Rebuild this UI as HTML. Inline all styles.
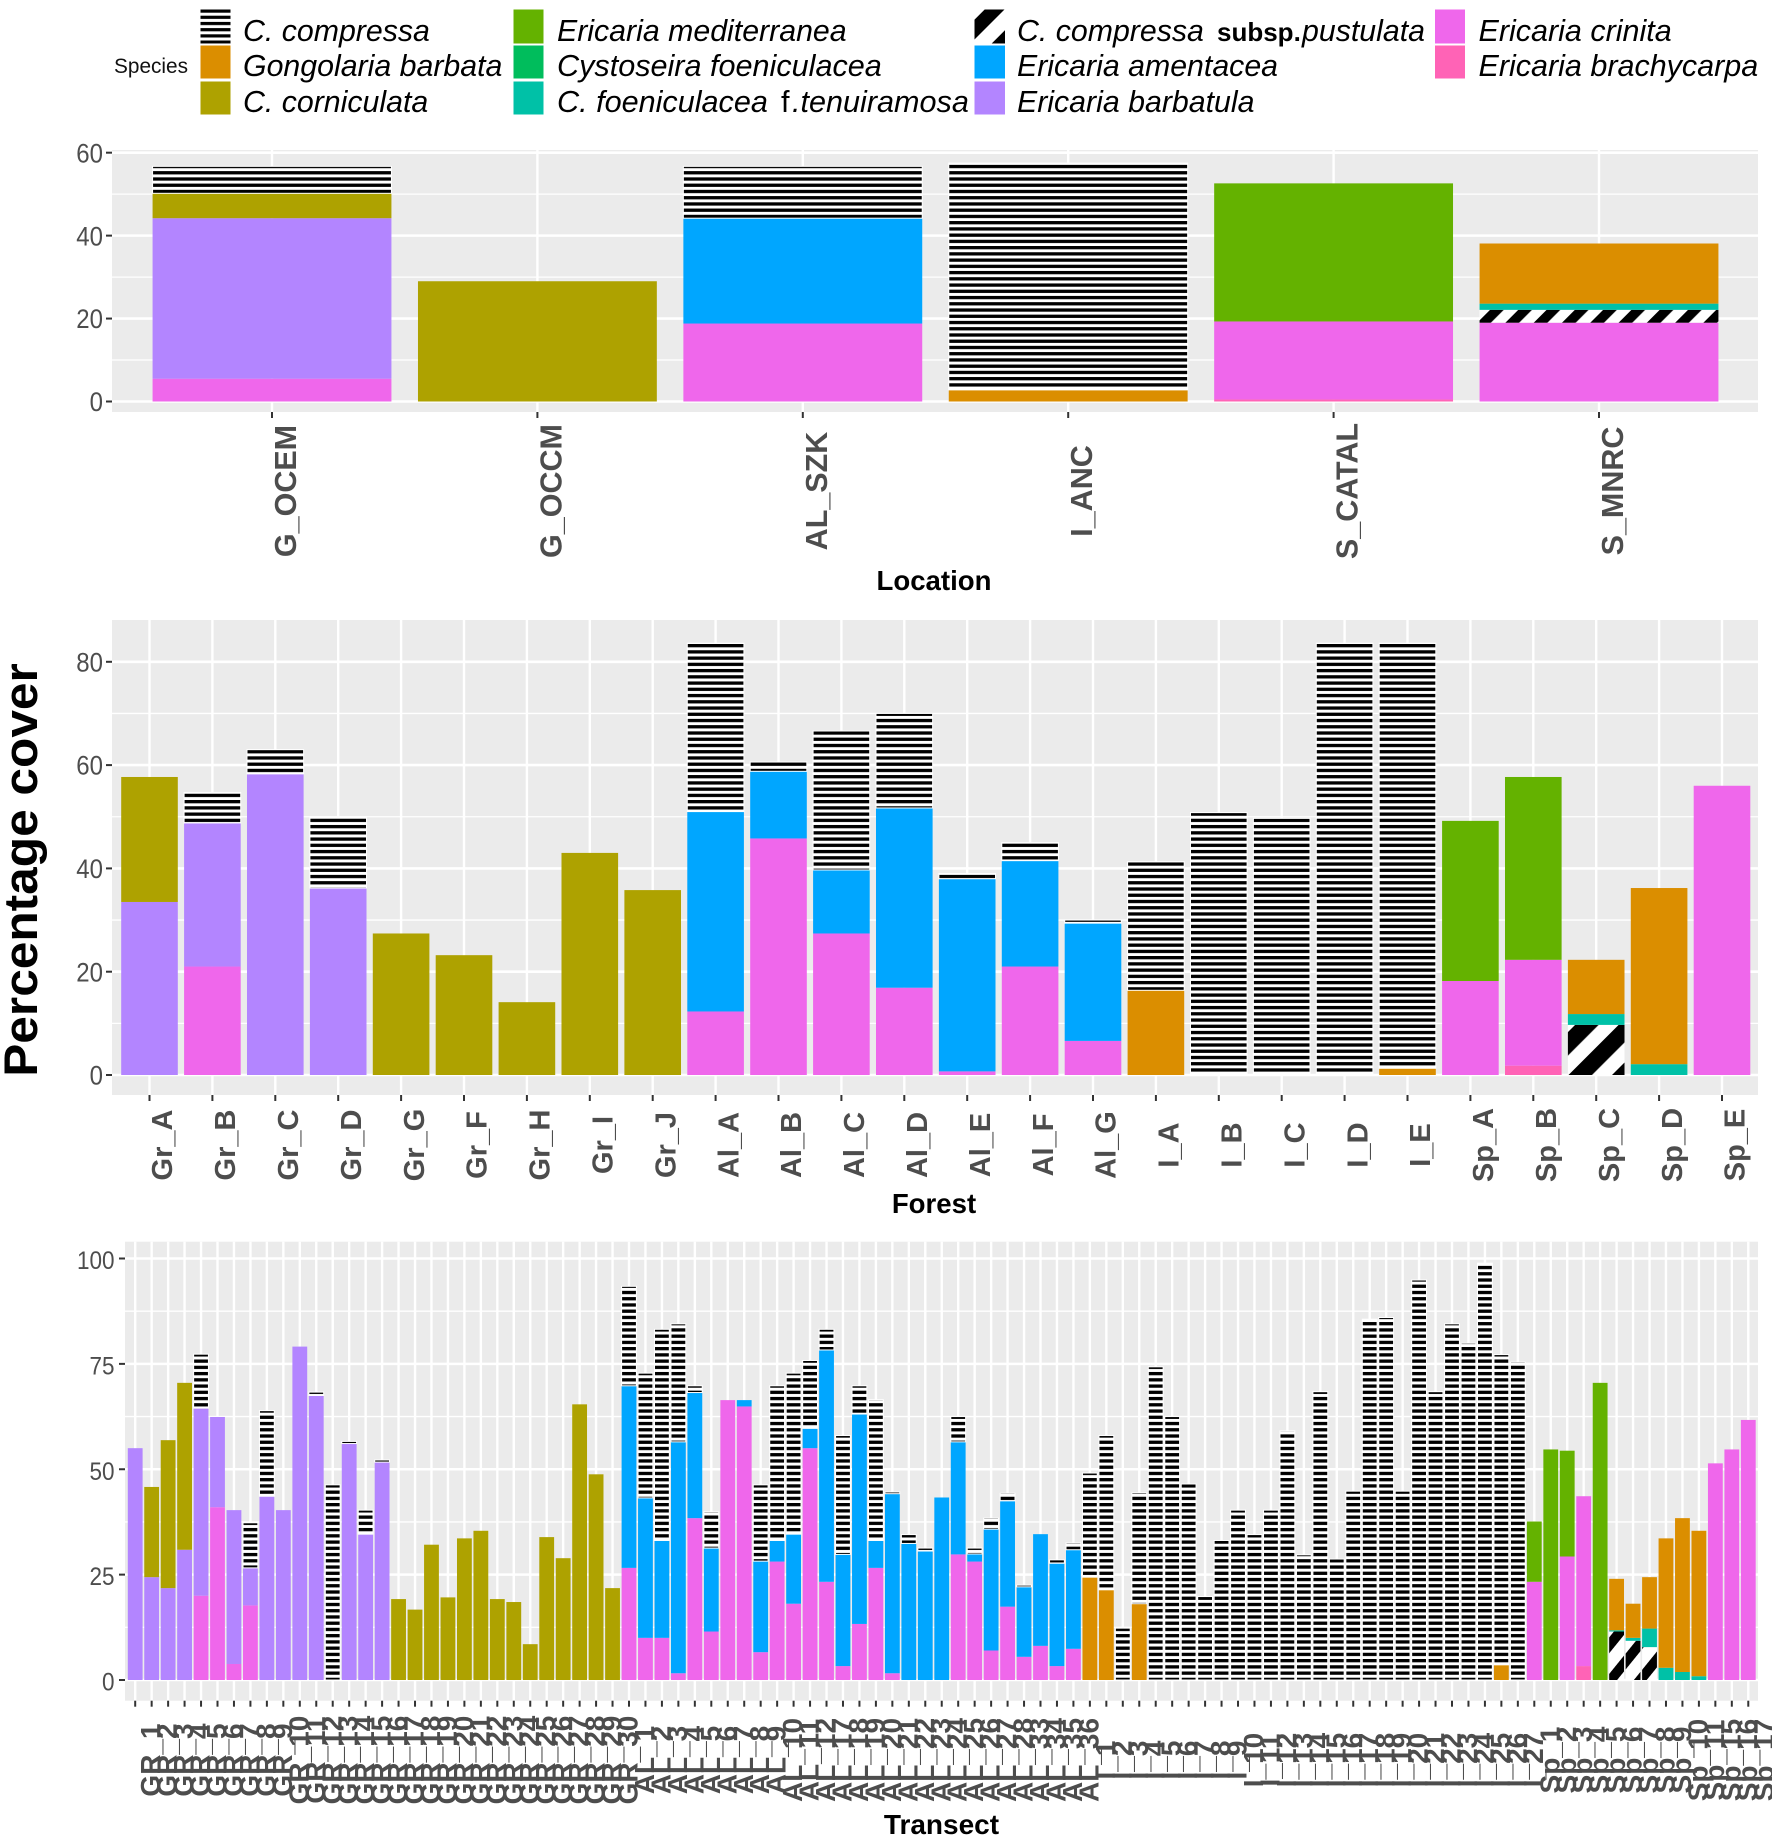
<!DOCTYPE html>
<html lang="en">
<head>
<meta charset="utf-8">
<title>Percentage cover by location, forest and transect</title>
<style>
html,body{margin:0;padding:0;background:#fff;}
svg{display:block;font-family:"Liberation Sans",sans-serif;}
</style>
</head>
<body>
<svg id="chart" xmlns="http://www.w3.org/2000/svg" width="1772" height="1845" viewBox="0 0 1772 1845">
<defs>
<pattern id="stripes-location" patternUnits="userSpaceOnUse" width="20" height="6.24" patternTransform="translate(0,177.35)"><rect width="20" height="6.24" fill="#fff"/><rect width="20" height="3.3" fill="#000"/></pattern>
<pattern id="stripes-forest" patternUnits="userSpaceOnUse" width="20" height="6.24" patternTransform="translate(0,644)"><rect width="20" height="6.24" fill="#fff"/><rect width="20" height="3.3" fill="#000"/></pattern>
<pattern id="stripes-transect" patternUnits="userSpaceOnUse" width="20" height="6.24" patternTransform="translate(0,1565.4)"><rect width="20" height="6.24" fill="#fff"/><rect width="20" height="3.3" fill="#000"/></pattern>
<pattern id="stripes-legend" patternUnits="userSpaceOnUse" width="20" height="6.2" patternTransform="translate(0,9.5)"><rect width="20" height="6.2" fill="#fff"/><rect width="20" height="3.2" fill="#000"/></pattern>
<pattern id="hatch-location" patternUnits="userSpaceOnUse" width="20" height="20" patternTransform="rotate(45) translate(1292.7,0)"><rect width="20" height="20" fill="#fff"/><rect width="9.7" height="20" fill="#000"/></pattern>
<pattern id="hatch-forest" patternUnits="userSpaceOnUse" width="30.75" height="30.75" patternTransform="rotate(45) translate(1838.5,0)"><rect width="30.75" height="30.75" fill="#fff"/><rect width="16.6" height="30.75" fill="#000"/></pattern>
<pattern id="hatch-transect" patternUnits="userSpaceOnUse" width="23" height="23" patternTransform="rotate(39) translate(2281,0)"><rect width="23" height="23" fill="#fff"/><rect width="10" height="23" fill="#000"/></pattern>
<pattern id="hatch-legend" patternUnits="userSpaceOnUse" width="29" height="29" patternTransform="rotate(45) translate(703,0)"><rect width="29" height="29" fill="#fff"/><rect width="14" height="29" fill="#000"/></pattern>
</defs>

<g id="legend">
<text x="114" y="73" font-size="20.8" fill="#111">Species</text>

<g font-size="30.3" font-style="italic"><rect x="200.5" y="9.5" width="30" height="34" fill="url(#stripes-legend)"/><text x="243" y="41">C. compressa</text></g>
<g font-size="30.3" font-style="italic"><rect x="200.5" y="45.5" width="30" height="33" fill="#DB8E00"/><text x="243" y="76">Gongolaria barbata</text></g>
<g font-size="30.3" font-style="italic"><rect x="200.5" y="81.5" width="30" height="33" fill="#AEA200"/><text x="243" y="112">C. corniculata</text></g>

<g font-size="30.3" font-style="italic"><rect x="513.5" y="9.5" width="30" height="34" fill="#64B200"/><text x="557" y="41">Ericaria mediterranea</text></g>
<g font-size="30.6" font-style="italic"><rect x="513.5" y="45.5" width="30" height="33" fill="#00BD5C"/><text x="557" y="76">Cystoseira foeniculacea</text></g>
<g font-size="30.6" font-style="italic"><rect x="513.5" y="81.5" width="30" height="33" fill="#00C1A7"/><text x="557" y="112">C. foeniculacea<tspan x="781" font-style="normal">f</tspan><tspan x="792">.tenuiramosa</tspan></text></g>

<g font-size="30.3" font-style="italic"><rect x="974.5" y="9.5" width="30.5" height="34" fill="url(#hatch-legend)"/><text x="1017" y="41">C. compressa<tspan x="1217" font-style="normal" font-weight="bold" font-size="26">subsp.</tspan><tspan x="1302">pustulata</tspan></text></g>
<g font-size="30.3" font-style="italic"><rect x="974.5" y="45.5" width="30.5" height="33" fill="#00A6FF"/><text x="1017" y="76">Ericaria amentacea</text></g>
<g font-size="30.3" font-style="italic"><rect x="974.5" y="81.5" width="30.5" height="33" fill="#B385FF"/><text x="1017" y="112">Ericaria barbatula</text></g>

<g font-size="30.5" font-style="italic"><rect x="1435" y="9.5" width="30" height="34" fill="#EF67EB"/><text x="1478.5" y="41">Ericaria crinita</text></g>
<g font-size="30.5" font-style="italic"><rect x="1435" y="45.5" width="30" height="33" fill="#FF63B6"/><text x="1478.5" y="76">Ericaria brachycarpa</text></g>
</g>

<text transform="translate(37,870) rotate(-90) scale(1.06,1)" text-anchor="middle" font-size="46.8" font-weight="bold" fill="#000">Percentage cover</text>
<text x="934" y="590" text-anchor="middle" font-size="27.6" font-weight="bold" fill="#000">Location</text>
<text x="934" y="1213" text-anchor="middle" font-size="27.6" font-weight="bold" fill="#000">Forest</text>
<text x="941.5" y="1834" text-anchor="middle" font-size="28" font-weight="bold" fill="#000">Transect</text>
</svg>

<script>
// Stack order, bottom to top, follows the legend reversed.
const speciesNames = ["brachycarpa","crinita","barbatula","amentacea","pustulata","tenuiramosa","foeniculacea","mediterranea","corniculata","gongolaria","compressa"];

// ---------- Location panel ----------
const locationCategories = ["G_OCEM","G_OCCM","AL_SZK","I_ANC","S_CATAL","S_MNRC"];
const locationTicks = [0,20,40,60];
const locationBrachycarpa = [0,0,0,0,0.5,0];
const locationCrinita = [5.5,0,18.8,0,18.8,19];
const locationBarbatula = [38.7,0,0,0,0,0];
const locationAmentacea = [0,0,25.4,0,0,0];
const locationPustulata = [0,0,0,0,0,3.1];
const locationTenuiramosa = [0,0,0,0,0,1.5];
const locationFoeniculacea = [0,0,0,0,0,0];
const locationMediterranea = [0,0,0,0,33.3,0];
const locationCorniculata = [6,29,0,0,0,0];
const locationGongolaria = [0,0,0,2.8,0,14.5];
const locationCompressa = [6.5,0,12.5,54.7,0,0];

// ---------- Forest panel ----------
const forestCategories = ["Gr_A","Gr_B","Gr_C","Gr_D","Gr_G","Gr_F","Gr_H","Gr_I","Gr_J","Al_A","Al_B","Al_C","Al_D","Al_E","Al_F","Al_G","I_A","I_B","I_C","I_D","I_E","Sp_A","Sp_B","Sp_C","Sp_D","Sp_E"];
const forestTicks = [0,20,40,60,80];
const forestBrachycarpa = [0,0,0,0,0,0,0,0,0, 0,0,0,0,0,0,0, 0,0,0,0,0, 0,1.8,0,0,0];
const forestCrinita = [0,21,0,0,0,0,0,0,0, 12.3,45.8,27.4,16.9,0.7,21,6.6, 0,0,0,0,0, 18.2,20.5,0,0,56];
const forestBarbatula = [33.5,27.8,58.3,36.2,0,0,0,0,0, 0,0,0,0,0,0,0, 0,0,0,0,0, 0,0,0,0,0];
const forestAmentacea = [0,0,0,0,0,0,0,0,0, 38.7,13,12.3,34.8,37.3,20.5,22.8, 0,0,0,0,0, 0,0,0,0,0];
const forestPustulata = [0,0,0,0,0,0,0,0,0, 0,0,0,0,0,0,0, 0,0,0,0,0, 0,0,9.7,0,0];
const forestTenuiramosa = [0,0,0,0,0,0,0,0,0, 0,0,0,0,0,0,0, 0,0,0,0,0, 0,0,2.1,2.1,0];
const forestFoeniculacea = [0,0,0,0,0,0,0,0,0, 0,0,0,0,0,0,0, 0,0,0,0,0, 0,0,0,0,0];
const forestMediterranea = [0,0,0,0,0,0,0,0,0, 0,0,0,0,0,0,0, 0,0,0,0,0, 31,35.4,0,0,0];
const forestCorniculata = [24.2,0,0,0,27.4,23.2,14.1,43,35.8, 0,0,0,0,0,0,0, 0,0,0,0,0, 0,0,0,0,0];
const forestGongolaria = [0,0,0,0,0,0,0,0,0, 0,0,0,0,0,0,0, 16.4,0,0,0,1.3, 0,0,10.5,34.1,0];
const forestCompressa = [0,5.9,4.7,13.8,0,0,0,0,0, 32.6,1.8,26.9,18.3,1,3.5,0.6, 24.9,50.8,49.7,83.6,82.3, 0,0,0,0,0];

// ---------- Transect panel ----------
const transectCategories = [
"GR_1","GR_2","GR_3","GR_4","GR_5","GR_6","GR_7","GR_8","GR_9","GR_10","GR_11","GR_12","GR_13","GR_14","GR_15","GR_16","GR_17","GR_18","GR_19","GR_20","GR_21","GR_22","GR_23","GR_24","GR_25","GR_26","GR_27","GR_28","GR_29","GR_30",
"AL_1","AL_2","AL_3","AL_4","AL_5","AL_6","AL_7","AL_8","AL_9","AL_10","AL_11","AL_12","AL_17","AL_18","AL_19","AL_20","AL_21","AL_22","AL_23","AL_24","AL_25","AL_26","AL_27","AL_28","AL_33","AL_34","AL_35","AL_36",
"I_1","I_2","I_3","I_4","I_5","I_6","I_7","I_8","I_9","I_10","I_11","I_12","I_13","I_14","I_15","I_16","I_17","I_18","I_19","I_20","I_21","I_22","I_23","I_24","I_25","I_26","I_27",
"Sp_1","Sp_2","Sp_3","Sp_4","Sp_5","Sp_6","Sp_7","Sp_8","Sp_9","Sp_10","Sp_11","Sp_15","Sp_16","Sp_17"];
const transectTicks = [0,25,50,75,100];
const transectBrachycarpa = [
0,0,0,0,0,0,0,0,0,0,0,0,0,0,0,0,0,0,0,0,0,0,0,0,0,0,0,0,0,0,
0,0,0,0,0,0,0,0,0,0,0,0,0,0,0,0,0,0,0,0,0,0,0,0,0,0,0,0,
0,0,0,0,0,0,0,0,0,0,0,0,0,0,0,0,0,0,0,0,0,0,0,0,0,0,0,
0,0,0,3.3,0,0,0,0,0,0,0,0,0,0];
const transectCrinita = [
0,0,0,0,20,41,3.8,17.7,0,0,0,0,0,0,0,0,0,0,0,0,0,0,0,0,0,0,0,0,0,0,
26.6,10,10,1.6,38.4,11.5,66.4,64.9,6.6,28.1,18.1,55,23.3,3.3,13.3,26.6,1.6,0,0,0,29.8,28.1,7,17.4,5.5,8.1,3.3,7.4,
0,0,0,0,0,0,0,0,0,0,0,0,0,0,0,0,0,0,0,0,0,0,0,0,0,0,0,
23.3,0,29.3,40.3,0,0,0,0,0,0,0,51.4,54.7,61.7];
const transectBarbatula = [
55,24.4,21.8,30.9,44.5,21.4,36.5,8.9,43.6,40.3,79.1,67.5,0,56.1,34.6,51.7,0,0,0,0,0,0,0,0,0,0,0,0,0,0,
0,0,0,0,0,0,0,0,0,0,0,0,0,0,0,0,0,0,0,0,0,0,0,0,0,0,0,0,
0,0,0,0,0,0,0,0,0,0,0,0,0,0,0,0,0,0,0,0,0,0,0,0,0,0,0,
0,0,0,0,0,0,0,0,0,0,0,0,0,0];
const transectAmentacea = [
0,0,0,0,0,0,0,0,0,0,0,0,0,0,0,0,0,0,0,0,0,0,0,0,0,0,0,0,0,0,
43.2,33.2,23.1,54.9,29.8,19.8,0,1.5,21.6,5,16.5,4.7,55,26.5,49.8,6.5,42.6,32.4,30.6,43.3,26.7,1.8,28.8,25.1,16.6,26.5,24.4,23.5,
0,0,0,0,0,0,0,0,0,0,0,0,0,0,0,0,0,0,0,0,0,0,0,0,0,0,0,
0,0,0,0,0,0,0,0,0,0,0,0,0,0];
const transectPustulata = [
0,0,0,0,0,0,0,0,0,0,0,0,0,0,0,0,0,0,0,0,0,0,0,0,0,0,0,0,0,0,
0,0,0,0,0,0,0,0,0,0,0,0,0,0,0,0,0,0,0,0,0,0,0,0,0,0,0,0,
0,0,0,0,0,0,0,0,0,0,0,0,0,0,0,0,0,0,0,0,0,0,0,0,0,0,0,
0,0,0,0,0,11.5,9.3,7.8,0,0,0,0,0,0];
const transectTenuiramosa = [
0,0,0,0,0,0,0,0,0,0,0,0,0,0,0,0,0,0,0,0,0,0,0,0,0,0,0,0,0,0,
0,0,0,0,0,0,0,0,0,0,0,0,0,0,0,0,0,0,0,0,0,0,0,0,0,0,0,0,
0,0,0,0,0,0,0,0,0,0,0,0,0,0,0,0,0,0,0,0,0,0,0,0,0,0,0,
0,0,0,0,0,0.3,0.7,4.4,2.9,1.9,0.9,0,0,0];
const transectFoeniculacea = [
0,0,0,0,0,0,0,0,0,0,0,0,0,0,0,0,0,0,0,0,0,0,0,0,0,0,0,0,0,0,
0,0,0,0,0,0,0,0,0,0,0,0,0,0,0,0,0,0,0,0,0,0,0,0,0,0,0,0,
0,0,0,0,0,0,0,0,0,0,0,0,0,0,0,0,0,0,0,0,0,0,0,0,0,0,0,
0,0,0,0,0,0,0,0,0,0,0,0,0,0];
const transectMediterranea = [
0,0,0,0,0,0,0,0,0,0,0,0,0,0,0,0,0,0,0,0,0,0,0,0,0,0,0,0,0,0,
0,0,0,0,0,0,0,0,0,0,0,0,0,0,0,0,0,0,0,0,0,0,0,0,0,0,0,0,
0,0,0,0,0,0,0,0,0,0,0,0,0,0,0,0,0,0,0,0,0,0,0,0,0,0,0,
14.3,54.7,25.1,0,70.5,0,0,0,0,0,0,0,0,0];
const transectCorniculata = [
0,21.4,35.1,39.6,0,0,0,0,0,0,0,0,0,0,0,0,19.2,16.7,32.1,19.6,33.6,35.4,19.2,18.5,8.5,33.9,28.9,65.4,48.8,21.8,
0,0,0,0,0,0,0,0,0,0,0,0,0,0,0,0,0,0,0,0,0,0,0,0,0,0,0,0,
0,0,0,0,0,0,0,0,0,0,0,0,0,0,0,0,0,0,0,0,0,0,0,0,0,0,0,
0,0,0,0,0,0,0,0,0,0,0,0,0,0];
const transectGongolaria = [
0,0,0,0,0,0,0,0,0,0,0,0,0,0,0,0,0,0,0,0,0,0,0,0,0,0,0,0,0,0,
0,0,0,0,0,0,0,0,0,0,0,0,0,0,0,0,0,0,0,0,0,0,0,0,0,0,0,0,
24.4,21.4,0,18.1,0,0,0,0,0,0,0,0,0,0,0,0,0,0,0,0,0,0,0,0,0,3.6,0,
0,0,0,0,0,12.2,8.1,12.2,30.7,36.5,34.5,0,0,0];
const transectCompressa = [
0,0,0,0,12.8,0,0,10.7,20.3,0,0,0.8,46.3,0.5,5.7,0.5,0,0,0,0,0,0,0,0,0,0,0,0,0,0,
23.6,29.6,50.1,28,1.6,8.6,0,0,18.1,36.7,38.2,16.1,4.9,28.2,6.7,33.4,0.4,2.1,0.7,0,6,1.4,2.6,1.8,0.4,0,0.8,1.6,
24.7,36.6,12.3,26.3,74.3,62.5,46.5,19.8,33.1,40.3,34.5,40.3,59.1,29.7,68.4,28.7,44.8,85.6,86,44.8,94.9,68.4,84.5,79.9,98.9,73.6,75.4,
0,0,0,0,0,0,0,0,0,0,0,0,0,0];

const locationSeries = [locationBrachycarpa,locationCrinita,locationBarbatula,locationAmentacea,locationPustulata,locationTenuiramosa,locationFoeniculacea,locationMediterranea,locationCorniculata,locationGongolaria,locationCompressa];
const forestSeries = [forestBrachycarpa,forestCrinita,forestBarbatula,forestAmentacea,forestPustulata,forestTenuiramosa,forestFoeniculacea,forestMediterranea,forestCorniculata,forestGongolaria,forestCompressa];
const transectSeries = [transectBrachycarpa,transectCrinita,transectBarbatula,transectAmentacea,transectPustulata,transectTenuiramosa,transectFoeniculacea,transectMediterranea,transectCorniculata,transectGongolaria,transectCompressa];

const NS = "http://www.w3.org/2000/svg";
const root = document.getElementById("chart");

function make(parent, tag, attrs, text) {
  const el = document.createElementNS(NS, tag);
  for (const k in attrs) el.setAttribute(k, attrs[k]);
  if (text !== undefined) el.textContent = text;
  parent.appendChild(el);
  return el;
}

function fillFor(species, key) {
  if (species === "compressa") return "url(#stripes-" + key + ")";
  if (species === "pustulata") return "url(#hatch-" + key + ")";
  const colours = {brachycarpa:"#FF63B6",crinita:"#EF67EB",barbatula:"#B385FF",amentacea:"#00A6FF",tenuiramosa:"#00C1A7",foeniculacea:"#00BD5C",mediterranea:"#64B200",corniculata:"#AEA200",gongolaria:"#DB8E00"};
  return colours[species];
}

function drawPanel(cfg) {
  const g = make(root, "g", {});
  
  

  const bg = make(g, "rect", {x:cfg.left, y:cfg.top, width:cfg.right-cfg.left, height:cfg.bottom-cfg.top, fill:"#EBEBEB"});
  
  

  const xScale = function (i) { return cfg.xFirst + i * cfg.xStep; };
  const yScale = function (v) { return cfg.y0 - v * cfg.yUnit; };

  // minor horizontal grid
  for (let t = 0; t < cfg.ticks.length - 1; t++) {
    const mid = (cfg.ticks[t] + cfg.ticks[t + 1]) / 2;
    const minor = make(g, "line", {x1:cfg.left, x2:cfg.right, y1:yScale(mid), y2:yScale(mid), stroke:"#fff", "stroke-width":1.3});
    
    
  }
  // major horizontal grid, y ticks, y labels
  cfg.ticks.forEach(function (t) {
    const y = yScale(t);
    const major = make(g, "line", {x1:cfg.left, x2:cfg.right, y1:y, y2:y, stroke:"#fff", "stroke-width":2.6});
    
    
    const tick = make(g, "line", {x1:cfg.left - 6, x2:cfg.left, y1:y, y2:y, stroke:"#333", "stroke-width":2});
    
    
    const label = make(g, "text", {transform:"translate(" + (cfg.left - cfg.yLabelGap) + "," + (y + cfg.yFont * 0.36 + cfg.yLabelShift) + ") scale(1,1.1)", "text-anchor":"end", "font-size":cfg.yFont, fill:"#4d4d4d"}, String(t));
    
    
  });
  // vertical grid, x ticks
  cfg.categories.forEach(function (c, i) {
    const x = xScale(i);
    const v = make(g, "line", {x1:x, x2:x, y1:cfg.top, y2:cfg.bottom, stroke:"#fff", "stroke-width":2.4});
    
    
    const tick = make(g, "line", {x1:x, x2:x, y1:cfg.bottom, y2:cfg.bottom + 6, stroke:"#333", "stroke-width":2});
    
    
  });
  // stacked bars
  cfg.categories.forEach(function (c, i) {
    let base = 0;
    const barWidth = cfg.xStep * 0.9;
    cfg.series.forEach(function (values, s) {
      const h = values[i];
      if (!h) return;
      const top = yScale(base + h);
      const seg = make(g, "rect", {x:xScale(i) - barWidth / 2, y:top, width:barWidth, height:yScale(base) - top, fill:fillFor(speciesNames[s], cfg.key)});
      if (speciesNames[s] === "compressa") {
        seg.setAttribute("stroke", "#fff");
        seg.setAttribute("stroke-width", "1");
      }
      
      
      base += h;
    });
  });
  // x labels drawn last so that overlaps stay visible
  cfg.categories.forEach(function (c, i) {
    const label = make(g, "text", {transform:"translate(" + (xScale(i) + cfg.labelOffset) + "," + cfg.labelY + ") rotate(-90)", "text-anchor":"middle", "font-size":cfg.xFont, "font-weight":"bold", fill:"#4d4d4d"}, c);
    
    
  });
}

drawPanel({key:"location", left:112, right:1758, top:150, bottom:412, xFirst:272, xStep:265.4, y0:401.5, yUnit:4.147, ticks:locationTicks, categories:locationCategories, series:locationSeries, yFont:24, xFont:30.5, labelOffset:24, labelY:491, yLabelGap:9, yLabelShift:1});
drawPanel({key:"forest", left:112, right:1758, top:620, bottom:1095, xFirst:149.5, xStep:62.9, y0:1075, yUnit:5.165, ticks:forestTicks, categories:forestCategories, series:forestSeries, yFont:24, xFont:29, labelOffset:22.7, labelY:1145, yLabelGap:9, yLabelShift:1});
drawPanel({key:"transect", left:125, right:1758, top:1241.7, bottom:1700.7, xFirst:135.2, xStep:16.46, y0:1680, yUnit:4.215, ticks:transectTicks, categories:transectCategories, series:transectSeries, yFont:22.5, xFont:28, labelOffset:25, labelY:1760, yLabelGap:10.5, yLabelShift:2.5});
</script>
</body>
</html>
